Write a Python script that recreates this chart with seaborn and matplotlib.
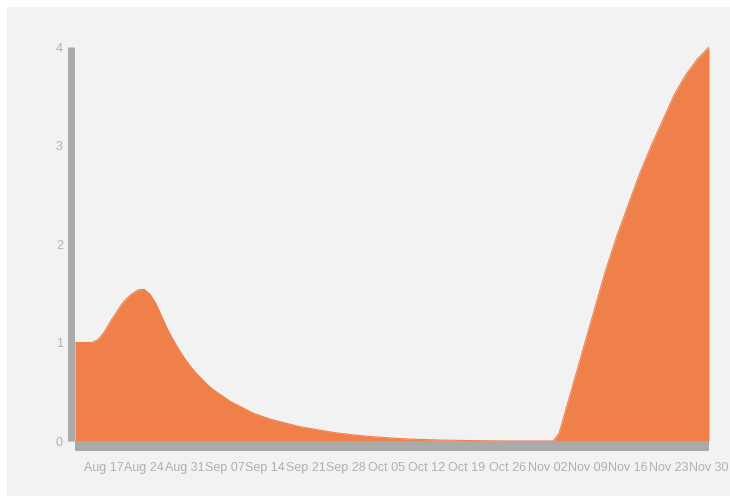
import matplotlib
matplotlib.use("Agg")
import matplotlib.pyplot as plt
import matplotlib.transforms as mtransforms
from matplotlib.patches import Rectangle
import seaborn as sns
import pandas as pd

# ---- data, one value per day ----
start_date = "2015-08-12"
end_date = "2015-11-30"
values = [
    # Aug 12 - Aug 21
    1.00, 1.00, 1.00, 1.00, 1.03, 1.10, 1.20, 1.29, 1.38, 1.45,
    # Aug 22 - Aug 31
    1.50, 1.535, 1.54, 1.49, 1.40, 1.27, 1.14, 1.03, 0.93, 0.84,
    # Sep 01 - Sep 10
    0.76, 0.69, 0.63, 0.57, 0.52, 0.48, 0.44, 0.40, 0.37, 0.34,
    # Sep 11 - Sep 20
    0.31, 0.28, 0.26, 0.24, 0.22, 0.205, 0.19, 0.175, 0.16, 0.145,
    # Sep 21 - Sep 30
    0.135, 0.125, 0.115, 0.105, 0.095, 0.085, 0.078, 0.071, 0.064, 0.058,
    # Oct 01 - Oct 10
    0.052, 0.047, 0.042, 0.038, 0.034, 0.030, 0.026, 0.023, 0.020, 0.018,
    # Oct 11 - Oct 20
    0.016, 0.014, 0.012, 0.010, 0.009, 0.008, 0.007, 0.006, 0.005, 0.004,
    # Oct 21 - Oct 30
    0.003, 0.002, 0.002, 0.001, 0.001, 0.0, 0.0, 0.0, 0.0, 0.0,
    # Oct 31 - Nov 09
    0.0, 0.0, 0.0, 0.0, 0.08, 0.285, 0.49, 0.695, 0.90, 1.105,
    # Nov 10 - Nov 19
    1.31, 1.515, 1.72, 1.90, 2.08, 2.24, 2.40, 2.56, 2.72, 2.86,
    # Nov 20 - Nov 30
    3.00, 3.13, 3.26, 3.39, 3.52, 3.62, 3.72, 3.80, 3.88, 3.94, 4.00,
]
tick_dates = ["2015-08-17", "2015-08-24", "2015-08-31", "2015-09-07", "2015-09-14",
              "2015-09-21", "2015-09-28", "2015-10-05", "2015-10-12", "2015-10-19",
              "2015-10-26", "2015-11-02", "2015-11-09", "2015-11-16", "2015-11-23",
              "2015-11-30"]
tick_labels = ["Aug 17", "Aug 24", "Aug 31", "Sep 07", "Sep 14", "Sep 21", "Sep 28",
               "Oct 05", "Oct 12", "Oct 19", "Oct 26", "Nov 02", "Nov 09", "Nov 16",
               "Nov 23", "Nov 30"]
y_ticks = [0, 1, 2, 3, 4]

dates = pd.date_range(start_date, end_date, freq="D")
n = min(len(dates), len(values))
df = pd.DataFrame({"date": dates[:n], "value": values[:n]})

ORANGE = "#f0804a"
BG = "#f2f2f2"
AXIS = "#aaaaaa"
TXT = "#b0b0b0"

sns.set_style("white")
plt.rcParams["font.family"] = ["Liberation Sans", "DejaVu Sans"]

W, H = 730, 496
fig = plt.figure(figsize=(W / 100, H / 100), dpi=100, facecolor="white")
fig.patches.append(Rectangle((7 / W, 0), 1 - 7 / W, 1 - 7 / H, transform=fig.transFigure,
                             facecolor=BG, edgecolor="none", zorder=-10))

ax = fig.add_axes([75 / W, (H - 441) / H, 634 / W, 394 / H])
ax.set_facecolor("none")

sns.lineplot(data=df, x="date", y="value", color=ORANGE, linewidth=0.8, ax=ax)
ax.fill_between(df["date"], 0, df["value"], color=ORANGE, linewidth=0)

ax.set_xlim(df["date"].iloc[0], df["date"].iloc[-1])
ax.set_ylim(0, 4)
ax.set_xlabel("")
ax.set_ylabel("")

ax.set_xticks(pd.to_datetime(tick_dates))
ax.set_xticklabels(tick_labels)
ax.set_yticks(y_ticks)
ax.set_yticklabels([str(v) for v in y_ticks])

ax.tick_params(axis="both", length=0, colors=TXT, labelsize=9)
ax.tick_params(axis="x", pad=11.5)
ax.tick_params(axis="y", pad=5.5)

off = mtransforms.ScaledTranslation(-9 / 100, 0, fig.dpi_scale_trans)
for lab in ax.get_xticklabels():
    lab.set_transform(lab.get_transform() + off)

for s in ["top", "right"]:
    ax.spines[s].set_visible(False)
ax.spines["left"].set_color(AXIS)
ax.spines["left"].set_linewidth(7 * 0.72)
ax.spines["left"].set_position(("outward", 4.5 * 0.72))
ax.spines["left"].set_capstyle("butt")
ax.spines["bottom"].set_color(AXIS)
ax.spines["bottom"].set_linewidth(10 * 0.72)
ax.spines["bottom"].set_position(("outward", 5 * 0.72))
ax.spines["bottom"].set_capstyle("butt")

fig.savefig("out.png", dpi=100, facecolor=fig.get_facecolor())
